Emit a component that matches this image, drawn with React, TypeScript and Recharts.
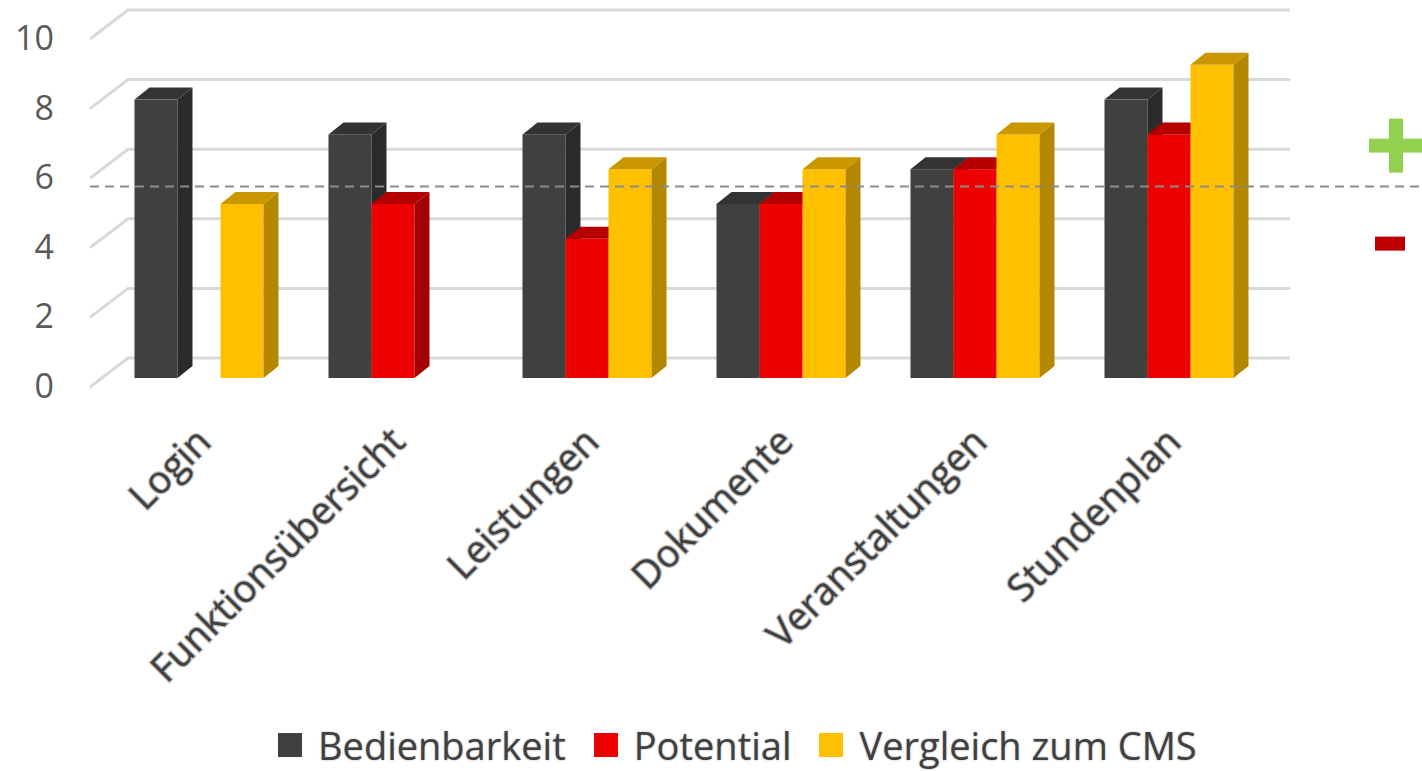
import { BarChart, Bar, XAxis, YAxis, CartesianGrid, ReferenceLine, Legend } from 'recharts';

const categories = ['Login', 'Funktionsübersicht', 'Leistungen', 'Dokumente', 'Veranstaltungen', 'Stundenplan'];
const bedienbarkeit = [8, 7, 7, 5, 6, 8];
const potential: (number | null)[] = [null, 5, 4, 5, 6, 7];
const vergleichCms: (number | null)[] = [5, null, 6, 6, 7, 9];
const yTicks = [0, 2, 4, 6, 8, 10];
const schwelle = 5.5;

const series = [
  { key: 'bedienbarkeit', name: 'Bedienbarkeit', front: '#404040', side: '#2b2b2b', top: '#333333' },
  { key: 'potential', name: 'Potential', front: '#ec0000', side: '#a30000', top: '#b50000' },
  { key: 'vergleich', name: 'Vergleich zum CMS', front: '#ffc000', side: '#b38700', top: '#c99700' },
];

const data = categories.map((name, i) => ({
  name,
  bedienbarkeit: bedienbarkeit[i],
  potential: potential[i],
  vergleich: vergleichCms[i],
}));

// depth of the pseudo-3D boxes
const DX = 15;
const DY = -12;
const FONT = '"Open Sans", sans-serif';

const boxShape = (s: (typeof series)[number]) => (props: any) => {
  const { x, y, width: w, height: h, payload } = props;
  if (payload == null || payload[s.key] == null || !(h > 0)) return <g />;
  return (
    <g>
      <rect x={x} y={y} width={w} height={h} fill={s.front} />
      <polygon
        points={`${x + w},${y} ${x + w + DX},${y + DY} ${x + w + DX},${y + h + DY} ${x + w},${y + h}`}
        fill={s.side}
      />
      <polygon points={`${x},${y} ${x + DX},${y + DY} ${x + w + DX},${y + DY} ${x + w},${y}`} fill={s.top} />
    </g>
  );
};

// grid line runs along the floor edge then across the back wall
const gridLine = (p: any) => {
  const y = p.y1;
  return (
    <path
      d={`M90 ${y + 9} L128 ${y - 20} L1290 ${y - 20}`}
      stroke="#d9d9d9"
      strokeWidth={3}
      fill="none"
    />
  );
};

const ValueTick = ({ y, payload }: any) => (
  <text x={54} y={y + 7} textAnchor="end" dominantBaseline="central" fill="#595959" fontSize={34} fontFamily={FONT}>
    {payload.value}
  </text>
);

const CategoryTick = ({ x, y, payload }: any) => (
  <text
    transform={`translate(${x + 14}, ${y + 58}) rotate(-45)`}
    textAnchor="end"
    fill="#404040"
    stroke="#bdbdbd"
    strokeWidth={2.5}
    paintOrder="stroke"
    fontSize={38}
    fontFamily={FONT}
  >
    {payload.value}
  </text>
);

const ThresholdMark = (p: any) => {
  const y = p.y1;
  return (
    <g>
      <line x1={90} x2={1422} y1={y} y2={y} stroke="#8c8c8c" strokeWidth={2} strokeDasharray="9 6" />
      <rect x={1369} y={y - 48} width={53} height={14} fill="#92d050" />
      <rect x={1389} y={y - 68} width={14} height={54} fill="#92d050" />
      <rect x={1375} y={y + 50} width={30} height={14} fill="#c00000" />
    </g>
  );
};

const LegendRow = () => (
  <div
    style={{
      display: 'flex',
      alignItems: 'center',
      paddingLeft: 278,
      paddingBottom: 6,
      height: 40,
      fontFamily: FONT,
      fontSize: 38,
      lineHeight: '40px',
      color: '#404040',
      textShadow: '0 0 2px #a0a0a0',
    }}
  >
    {series.map((s) => (
      <span key={s.key} style={{ display: 'flex', alignItems: 'center', marginRight: 28 }}>
        <span style={{ width: 24, height: 24, background: s.front, marginRight: 16, display: 'inline-block' }} />
        {s.name}
      </span>
    ))}
  </div>
);

export default function App() {
  return (
    <div style={{ position: 'absolute', left: 0, top: 0, background: '#fff' }}>
      <BarChart
        width={1422}
        height={771}
        data={data}
        margin={{ top: 30, right: 156, bottom: 0, left: 0 }}
        barCategoryGap="16.75%"
        barGap={0}
      >
        <CartesianGrid horizontal={gridLine} vertical={false} />
        <XAxis dataKey="name" axisLine={false} tickLine={false} interval={0} height={347} tick={<CategoryTick />} />
        <YAxis
          domain={[0, 10]}
          ticks={yTicks}
          width={102}
          axisLine={false}
          tickLine={false}
          tick={<ValueTick />}
        />
        {series.map((s) => (
          <Bar key={s.key} dataKey={s.key} name={s.name} isAnimationActive={false} shape={boxShape(s)} />
        ))}
        <ReferenceLine y={schwelle} shape={ThresholdMark} />
        <Legend verticalAlign="bottom" height={46} content={<LegendRow />} />
      </BarChart>
    </div>
  );
}
